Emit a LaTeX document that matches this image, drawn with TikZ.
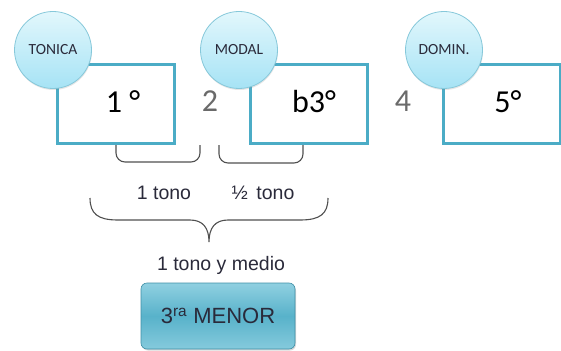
\documentclass[tikz,border=0pt]{standalone}
\usepackage{fontspec}
\setmainfont{Carlito}
\newfontfamily\arialfont{Liberation Sans}
\usetikzlibrary{shadows}
\definecolor{boxteal}{HTML}{4BACC6}
\definecolor{circtop}{HTML}{E2F7FC}
\definecolor{circbot}{HTML}{A6E3F5}
\definecolor{circedge}{HTML}{86C8DA}
\definecolor{darktxt}{HTML}{2A2A3A}
\definecolor{greytxt}{HTML}{6A6A6A}
\definecolor{bracegrey}{HTML}{505050}
\definecolor{btntop}{HTML}{90D0E1}
\definecolor{btnmid}{HTML}{58B2CA}
\definecolor{btnedge}{HTML}{3E8FA6}

\begin{document}
\begin{tikzpicture}[
  x=1pt,y=-1pt,
  grado/.style={draw=boxteal,line width=3pt,minimum width=117pt,minimum height=78pt,inner sep=0pt},
  gradotxt/.style={font=\fontsize{32}{36}\selectfont,text=black,inner sep=0pt},
  salto/.style={font=\fontsize{32}{36}\selectfont,text=greytxt,inner sep=0pt},
  funcion/.style={circle,draw=circedge,line width=0.8pt,top color=circtop,bottom color=circbot,
    minimum size=77pt,inner sep=0pt,font=\fontsize{15.5}{18}\selectfont,text=darktxt,
    drop shadow={opacity=0.2,shadow xshift=0.5pt,shadow yshift=-1.5pt}},
  rotulo/.style={font=\arialfont\fontsize{19.5}{23}\selectfont,text=darktxt,inner sep=0pt},
  llave/.style={draw=bracegrey,line width=1.1pt},
  boton/.style={rounded corners=6pt,draw=btnedge,line width=0.6pt,top color=btntop,bottom color=btntop!80!btnmid,middle color=btnmid,
    minimum width=154pt,minimum height=66pt,inner sep=0pt,font=\arialfont\fontsize{22}{26}\selectfont,text=darktxt,
    drop shadow={opacity=0.3,shadow xshift=1pt,shadow yshift=-1.5pt}}
]
\useasboundingbox (0,0) rectangle (561,350);

% grados
\node[grado] (uno)   at (116,104) {};
\node[grado] (tercera) at (309,104) {};
\node[grado] (quinta)  at (502,104) {};
\node[gradotxt] (unotxt) at (123,102) {1 °};
\node[gradotxt] (tercertxt) at (314,102) {b3°};
\node[gradotxt] (quintatxt) at (508,102) {5°};
\node[salto] (dos)    at (210,101) {2};
\node[salto] (cuatro) at (403,101) {4};

% funciones
\node[funcion] (tonica) at (53,50)  {TONICA};
\node[funcion] (modal)  at (239,50) {MODAL};
\node[funcion] (domin)  at (444,50) {DOMIN.};

% llaves
\draw[llave,rounded corners=9pt] (116,145) -- (116,162) -- (200,162) -- (200,145);
\draw[llave,rounded corners=9pt] (219,145) -- (219,163) -- (303,163) -- (303,145);
\node[rotulo] (tono)  at (164,193) {1 tono};
\node[rotulo] (medio) at (263,193) {½\, tono};
\draw[llave] (90,198) .. controls (90,214) and (98,220) .. (118,220) -- (190,220)
  .. controls (203,220) and (209,228) .. (209,242)
  .. controls (209,228) and (215,220) .. (228,220) -- (300,220)
  .. controls (320,220) and (328,214) .. (328,198);
\node[rotulo] (total) at (221,265) {1 tono y medio};

% intervalo
\node[boton] (menor) at (218,316) {3\textsuperscript{ra} MENOR};
\end{tikzpicture}
\end{document}
